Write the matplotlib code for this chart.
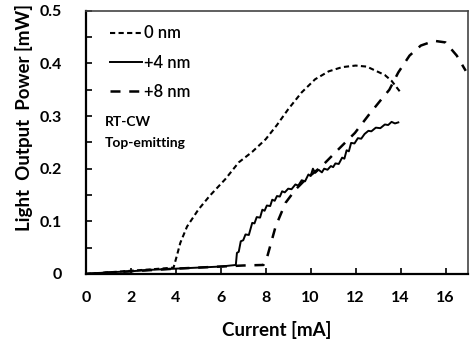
import matplotlib
matplotlib.use("Agg")
import matplotlib.pyplot as plt
import numpy as np

# 0 nm
x0 = [0, 1, 2, 3, 3.9, 4.05, 4.2, 4.5, 5.0, 5.5, 6.2, 6.8, 7.4, 8.0, 8.5, 9.0, 9.6, 10.2, 10.8, 11.4, 12.0, 12.5, 12.9, 13.3, 13.6, 14.0]
y0 = [0, 0.003, 0.006, 0.009, 0.012, 0.035, 0.059, 0.09, 0.122, 0.148, 0.18, 0.212, 0.232, 0.256, 0.283, 0.313, 0.345, 0.37, 0.385, 0.393, 0.396, 0.394, 0.386, 0.378, 0.367, 0.345]

# +4 nm
x4 = [0, 1, 2, 3, 4, 5, 6, 6.67, 6.72, 6.8, 6.89, 7.0, 7.1, 7.25, 7.4, 7.5, 7.6, 7.75, 7.85, 7.95, 8.05, 8.2, 8.29, 8.4, 8.5, 8.63, 8.73, 8.85, 9.0, 9.15, 9.32, 9.45, 9.6, 9.75, 9.9, 10.0, 10.1, 10.2, 10.35, 10.5, 10.6, 10.75, 10.9, 11.0, 11.1, 11.25, 11.4, 11.5, 11.6, 11.7, 11.8, 11.95, 12.1, 12.25, 12.4, 12.57, 12.7, 12.9, 13.1, 13.3, 13.45, 13.6, 13.75, 13.9]
y4 = [0, 0.003, 0.005, 0.008, 0.01, 0.012, 0.014, 0.017, 0.04, 0.042, 0.062, 0.064, 0.075, 0.074, 0.097, 0.096, 0.108, 0.107, 0.122, 0.12, 0.13, 0.129, 0.141, 0.139, 0.148, 0.147, 0.157, 0.155, 0.162, 0.161, 0.17, 0.168, 0.178, 0.176, 0.189, 0.186, 0.2, 0.192, 0.198, 0.193, 0.2, 0.198, 0.205, 0.203, 0.21, 0.209, 0.221, 0.219, 0.235, 0.233, 0.249, 0.248, 0.258, 0.257, 0.266, 0.272, 0.271, 0.278, 0.277, 0.284, 0.283, 0.289, 0.286, 0.288]

# +8 nm
x8 = [0, 2, 4, 6, 7, 7.9, 8.07, 8.44, 8.88, 9.32, 9.76, 10.5, 11.24, 11.97, 12.6, 13.15, 13.5, 13.9, 14.4, 14.9, 15.5, 16.0, 16.5, 16.9]
y8 = [0, 0.005, 0.01, 0.014, 0.016, 0.017, 0.033, 0.09, 0.135, 0.16, 0.179, 0.205, 0.237, 0.268, 0.303, 0.332, 0.35, 0.383, 0.415, 0.434, 0.443, 0.44, 0.415, 0.386]

xticks = [0, 2, 4, 6, 8, 10, 12, 14, 16]
yticks = [0, 0.1, 0.2, 0.3, 0.4, 0.5]
ytick_labels = ["0", "0.1", "0.2", "0.3", "0.4", "0.5"]

plt.rcParams['font.family'] = ['Lato', 'DejaVu Sans']

fig = plt.figure(figsize=(4.72, 3.39), dpi=100)
ax = fig.add_axes([0.182, 0.192, 0.8095, 0.776])

ax.plot(x0, y0, color='black', lw=1.5, linestyle=(0, (2.5, 1.6)), label='0 nm')
ax.plot(x4, y4, color='black', lw=1.4, linestyle='-', label='+4 nm')
ax.plot(x8, y8, color='black', lw=1.8, linestyle=(0, (4, 3.5)), label='+8 nm')

ax.set_xlim(0, 17)
ax.set_ylim(0, 0.5)
ax.set_xticks(xticks)
ax.set_xticklabels([str(t) for t in xticks], fontweight='bold', fontsize=11.5)
ax.set_yticks(yticks)
ax.set_yticklabels(ytick_labels, fontweight='bold', fontsize=11.5)
ax.set_yticks(np.arange(0.05, 0.5, 0.1), minor=True)
ax.tick_params(axis='both', which='both', direction='in', length=4, width=1.2)
ax.tick_params(axis='x', which='major', pad=12)
ax.tick_params(axis='y', which='major', pad=17)

for s in ['left', 'bottom']:
    ax.spines[s].set_linewidth(1.6)
for s in ['top', 'right']:
    ax.spines[s].set_linewidth(1.2)
    ax.spines[s].set_color('#444444')

ax.set_xlabel('Current [mA]', fontweight='bold', fontsize=13.5)
ax.xaxis.set_label_coords(0.5, -0.178)
ax.set_ylabel('Light  Output  Power [mW]', fontweight='bold', fontsize=13.5)
ax.yaxis.set_label_coords(-0.139, 0.593)

leg = ax.legend(loc='upper left', frameon=False, fontsize=12, handlelength=1.9,
                handletextpad=0.15, labelspacing=0.8, borderaxespad=0.0,
                bbox_to_anchor=(0.046, 0.97))
for t in leg.get_texts():
    t.set_fontweight('semibold')

ax.text(0.05, 0.578, 'RT-CW', transform=ax.transAxes, fontsize=10, fontweight='bold', va='center')
ax.text(0.05, 0.498, 'Top-emitting', transform=ax.transAxes, fontsize=10, fontweight='bold', va='center')

fig.savefig('out.png', dpi=100)
